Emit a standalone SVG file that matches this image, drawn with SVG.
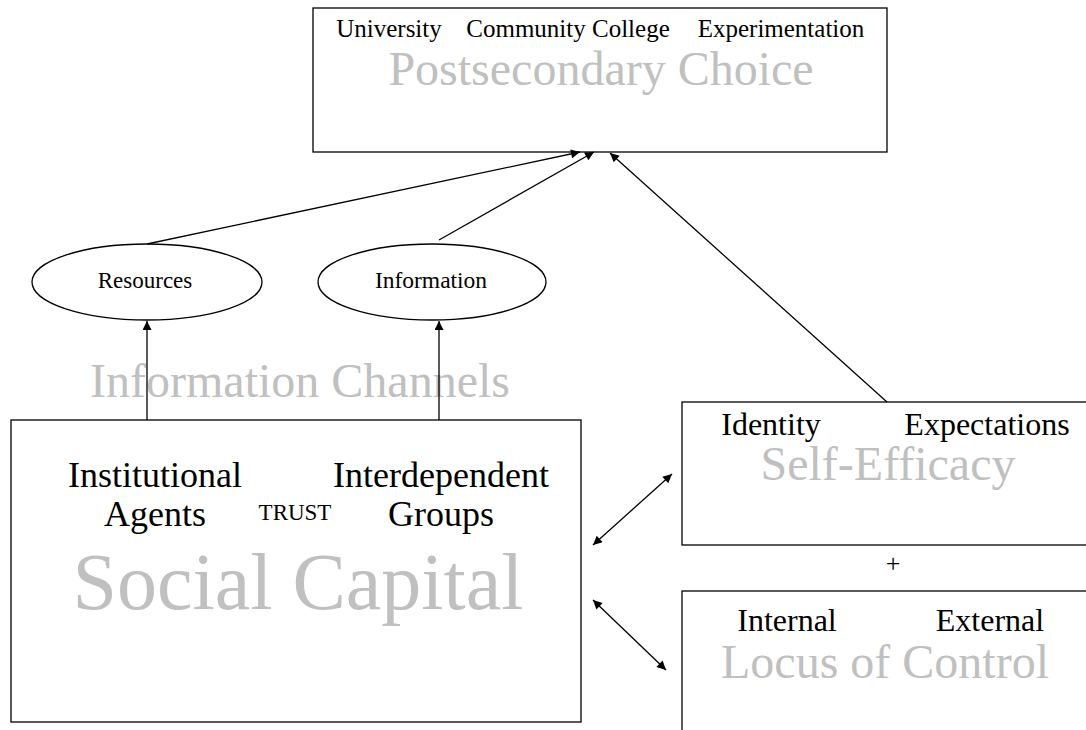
<svg xmlns="http://www.w3.org/2000/svg" width="1086" height="730" viewBox="0 0 1086 730">
<style>
.box{fill:#fff;stroke:#000;stroke-width:1.3}
.t{font-family:"Liberation Serif","Times New Roman",serif;fill:#000}
.g{font-family:"Liberation Serif","Times New Roman",serif;fill:#c0c0c0}
.c{stroke:#000;stroke-width:1.3;fill:none}
</style>
<defs>
<marker id="ah" viewBox="0 0 10 10" refX="10" refY="5" markerWidth="11" markerHeight="9" markerUnits="userSpaceOnUse" orient="auto-start-reverse">
<path d="M0,0 L10,5 L0,10 z" fill="#000"/>
</marker>
</defs>
<rect width="1086" height="730" fill="#fff"/>
<g id="postsecondary">
<rect class="box" x="313" y="8" width="574" height="144"/>
<text class="t" x="389" y="37" font-size="25" text-anchor="middle">University</text>
<text class="t" x="568" y="37" font-size="25" text-anchor="middle">Community College</text>
<text class="t" x="781" y="37" font-size="25" text-anchor="middle">Experimentation</text>
<text class="g" x="601" y="85" font-size="48" text-anchor="middle">Postsecondary Choice</text>
</g>
<g id="resources">
<ellipse class="box" cx="147" cy="282" rx="115" ry="38"/>
<text class="t" x="145" y="288" font-size="23" text-anchor="middle">Resources</text>
</g>
<g id="information">
<ellipse class="box" cx="432" cy="282" rx="114" ry="38"/>
<text class="t" x="431" y="288" font-size="23.5" text-anchor="middle">Information</text>
</g>
<g id="channels-label">
<text class="g" x="300" y="397" font-size="48" text-anchor="middle">Information Channels</text>
</g>
<g id="social-capital">
<rect class="box" x="11" y="420" width="570" height="302"/>
<text class="t" x="155" y="487" font-size="36" text-anchor="middle">Institutional</text>
<text class="t" x="441" y="487" font-size="36" text-anchor="middle">Interdependent</text>
<text class="t" x="155" y="526" font-size="36" text-anchor="middle">Agents</text>
<text class="t" x="295" y="520" font-size="23" text-anchor="middle">TRUST</text>
<text class="t" x="441" y="526" font-size="36" text-anchor="middle">Groups</text>
<text class="g" x="298" y="609" font-size="80" text-anchor="middle">Social Capital</text>
</g>
<g id="self-efficacy">
<rect class="box" x="682" y="402" width="420" height="143"/>
<text class="t" x="771" y="435" font-size="32" text-anchor="middle">Identity</text>
<text class="t" x="987" y="435" font-size="32" text-anchor="middle">Expectations</text>
<text class="g" x="888" y="480" font-size="48" text-anchor="middle">Self-Efficacy</text>
</g>
<g id="plus">
<text class="t" x="893" y="572" font-size="26" text-anchor="middle">+</text>
</g>
<g id="locus">
<rect class="box" x="682" y="591" width="420" height="160"/>
<text class="t" x="787" y="631" font-size="32" text-anchor="middle">Internal</text>
<text class="t" x="990" y="631" font-size="32" text-anchor="middle">External</text>
<text class="g" x="885" y="678" font-size="48" text-anchor="middle">Locus of Control</text>
</g>
<g id="connectors">
<line class="c" x1="147" y1="420" x2="147" y2="321" marker-end="url(#ah)"/>
<line class="c" x1="439" y1="420" x2="439" y2="321" marker-end="url(#ah)"/>
<line class="c" x1="147" y1="244" x2="580" y2="152" marker-end="url(#ah)"/>
<line class="c" x1="439" y1="240" x2="594" y2="152" marker-end="url(#ah)"/>
<line class="c" x1="887" y1="402" x2="610" y2="153" marker-end="url(#ah)"/>
<line class="c" x1="593" y1="545" x2="672" y2="474" marker-start="url(#ah)" marker-end="url(#ah)"/>
<line class="c" x1="593" y1="600" x2="666" y2="670" marker-start="url(#ah)" marker-end="url(#ah)"/>
</g>
</svg>
